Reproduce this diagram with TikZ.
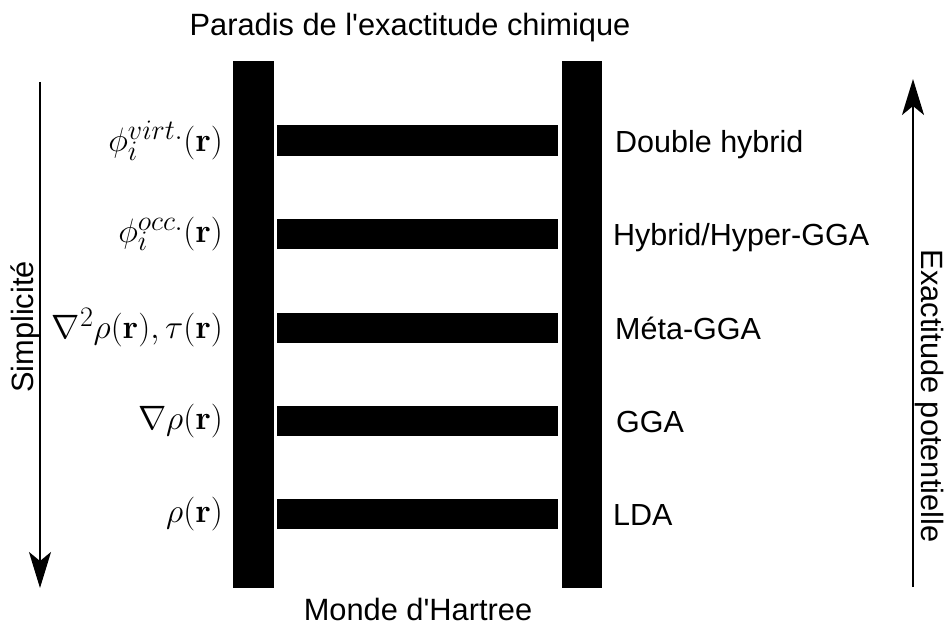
\documentclass[tikz,border=0pt]{standalone}
\usepackage[no-math]{fontspec}
\newfontfamily\labelfont{Liberation Sans}
\usetikzlibrary{arrows.meta}
\newcommand{\bigmath}[1]{\scalebox{1.36}{\Huge$#1$}}
\tikzset{
  rail/.style={fill=black},
  rung/.style={fill=black},
  mathlabel/.style={anchor=east, inner sep=0pt},
  namelabel/.style={anchor=base west, inner sep=0pt, font=\labelfont\fontsize{30.5}{36}\selectfont},
  caption/.style={anchor=base, inner sep=0pt, font=\labelfont\fontsize{30.8}{36}\selectfont},
  axisarrow/.style={line width=2pt, -{Stealth[length=36pt,width=22pt,inset=9pt]}},
}
\begin{document}
\begin{tikzpicture}[x=1pt,y=-1pt]
\useasboundingbox (0,0) rectangle (947,623);

% the two rails of the ladder
\fill[rail] (233,61) rectangle (274,588);
\fill[rail] (562,61) rectangle (602,588);

% the five rungs
\foreach \yy in {140.5,234,327.5,421,514}
  \fill[rung] (277,\yy-15) rectangle (558,\yy+15);

% ingredients on the left
\node[mathlabel] (m5) at (223,140.5) {\bigmath{\phi_i^{virt.}(\mathbf{r})}};
\node[mathlabel] (m4) at (223,234) {\bigmath{\phi_i^{occ.}(\mathbf{r})}};
\node[mathlabel] (m3) at (223,327.5) {\bigmath{\nabla^2\rho(\mathbf{r}),\tau(\mathbf{r})}};
\node[mathlabel] (m2) at (223,421) {\bigmath{\nabla\rho(\mathbf{r})}};
\node[mathlabel] (m1) at (223,514) {\bigmath{\rho(\mathbf{r})}};

% functional families on the right
\node[namelabel] (f5) at (615,152) {Double hybrid};
\node[namelabel] (f4) at (613,245.5) {Hybrid/Hyper-GGA};
\node[namelabel] (f3) at (615,339) {Méta-GGA};
\node[namelabel] (f2) at (616,432.5) {GGA};
\node[namelabel] (f1) at (613,525.5) {LDA};

% top and bottom captions
\node[caption] (top) at (410,36) {Paradis de l'exactitude chimique};
\node[caption] (bottom) at (418,620) {Monde d'Hartree};

% side axes
\coordinate (s0) at (40,82);
\coordinate (s1) at (40,588);
\draw[axisarrow] (s0) -- (s1);
\node[caption, rotate=90] (simp) at (33,327) {Simplicité};

\coordinate (e0) at (913,587);
\coordinate (e1) at (913,79);
\draw[axisarrow] (e0) -- (e1);
\node[caption, rotate=-90] (exact) at (921,396) {Exactitude potentielle};
\end{tikzpicture}
\end{document}
